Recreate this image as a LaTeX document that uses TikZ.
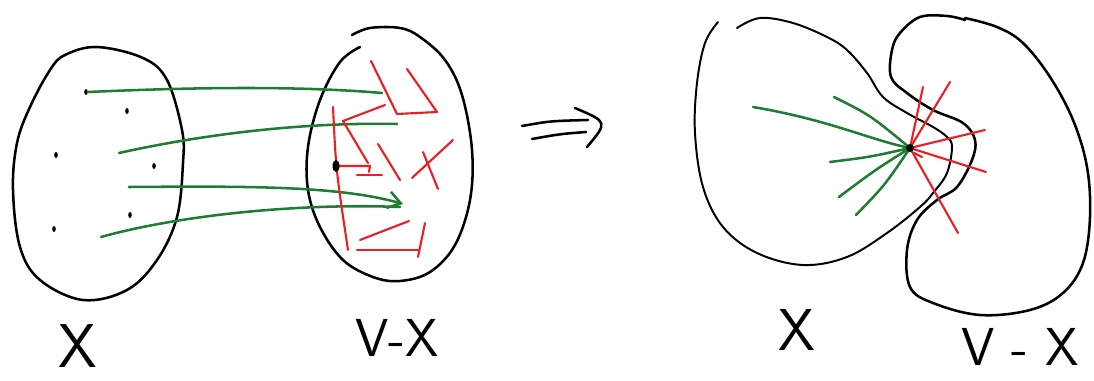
\documentclass[tikz,border=0pt]{standalone}
\usepackage{tikz}
\usetikzlibrary{arrows.meta}
\definecolor{pengreen}{RGB}{30,125,50}
\definecolor{penred}{RGB}{235,30,35}
\tikzset{
  outline/.style={line width=1.8pt, line cap=round, line join=round},
  fwd/.style={pengreen, line width=1.8pt, line cap=round},
  back/.style={penred, line width=1.5pt, line cap=round, line join=round},
  lbl/.style={font=\sffamily\fontsize{#1}{#1}\selectfont, inner sep=0pt},
}
\begin{document}
\begin{tikzpicture}[x=0.025cm,y=-0.025cm]
  \useasboundingbox (0,0) rectangle (1094,381);

  %% left picture: X and V-X apart
  \draw[outline] plot[smooth cycle, tension=0.6] coordinates {
    (65,55) (97,47) (143,58) (167,80) (182,130) (183,163) (177,217)
    (157,260) (127,290) (83,300) (40,280) (20,247) (13,190) (17,143)
    (30,107) (50,70)};
  \draw[outline] plot[smooth, tension=0.6] coordinates {
    (352,35) (370,28) (400,28) (420,37) (445,60) (462,95) (472,150)
    (470,200) (455,245) (430,272) (400,281) (373,277) (343,260)
    (320,227) (308,190) (308,147) (320,100) (340,62) (360,47)};

  % the vertices of X
  \foreach \p in {(86,92),(127,111),(56,155),(154,166),(130,215),(54,229)}
    \fill \p ellipse [x radius=1.8, y radius=3];

  \coordinate (x1) at (88,92);   \coordinate (y1) at (382,93);
  \coordinate (x2) at (119,153); \coordinate (y2) at (397,124);
  \coordinate (x3) at (129,187); \coordinate (y3) at (403,204);
  \coordinate (x4) at (101,237); \coordinate (y4) at (400,207);
  \draw[fwd] (x1) .. controls (200,87) and (300,86) .. (y1);
  \draw[fwd] (x2) .. controls (200,135) and (300,122) .. (y2);
  \draw[fwd,-{Straight Barb[length=9pt,width=12pt]}] (x3) .. controls (250,186) and (340,186) .. (y3);
  \draw[fwd] (x4) .. controls (180,215) and (300,203) .. (y4);

  % edges inside V-X
  \coordinate (u) at (336,166);
  \draw[back] (333,107) .. controls (336,170) .. (348,250);
  \draw[back] (371,61) -- (397,114) -- (437,112) -- (407,69);
  \draw[back] (385,105) -- (343,121) -- (368,163);
  \draw[back] (u) -- (370,166) -- (369,172);
  \draw[back] (357,175) -- (382,175);
  \draw[back] (378,144) -- (400,180);
  \draw[back] (412,178) -- (453,140);
  \draw[back] (423,152) -- (438,189);
  \draw[back] (360,240) -- (409,221);
  \draw[back] (357,250) -- (418,250);
  \draw[back] (425,223) -- (418,257);
  \fill (u) ellipse [x radius=3.5, y radius=6];

  \node[lbl=44] (lx) at (78,346) {X};
  \node[lbl=38] (lvx) at (397,338) {V-X};

  %% implies
  \draw[outline] (522,126) .. controls (550,121) .. (588,120);
  \draw[outline] (532,139) .. controls (560,134) .. (586,132);
  \draw[outline] (575,108) .. controls (608,122) .. (587,147);

  %% right picture: X and V-X glued
  \draw[outline, line width=1.4pt] plot[smooth, tension=0.6] coordinates {
    (718,22) (705,43) (697,83) (695,133) (703,187) (723,227) (757,253)
    (803,265) (847,257) (887,233) (920,207) (933,193) (947,173) (952,147)
    (947,137) (933,127) (907,113) (883,97) (867,73) (847,50) (827,37)
    (793,23) (760,18) (737,28)};
  \draw[outline] plot[smooth, tension=0.6] coordinates {
    (965,20) (947,16) (920,17) (900,33) (892,50) (891,77) (907,93)
    (933,110) (963,123) (975,140) (972,160) (957,187) (937,200) (917,220)
    (907,250) (910,287) (933,303) (980,315) (1030,310) (1063,293)
    (1083,263) (1090,217) (1087,167) (1073,120) (1050,77) (1023,43)
    (997,27) (965,18)};

  \coordinate (v) at (910,148);
  \draw[fwd] (753,107) .. controls (830,120) and (870,140) .. (v);
  \draw[fwd] (834,97) .. controls (870,115) .. (v);
  \draw[fwd] (830,162) .. controls (870,157) .. (v);
  \draw[fwd] (839,197) .. controls (875,170) .. (v);
  \draw[fwd] (856,215) .. controls (885,185) .. (v);
  \foreach \q in {(923,87),(950,82),(985,130),(986,172),(958,233)}
    \draw[back] (v) -- \q;
  \draw[back] (914,153) -- (922,157);
  \fill (v) circle [radius=4];

  \node[lbl=42] (rx) at (797,330) {X};
  \node[lbl=38] (rvx) at (1020,347) {V - X};
\end{tikzpicture}
\end{document}
